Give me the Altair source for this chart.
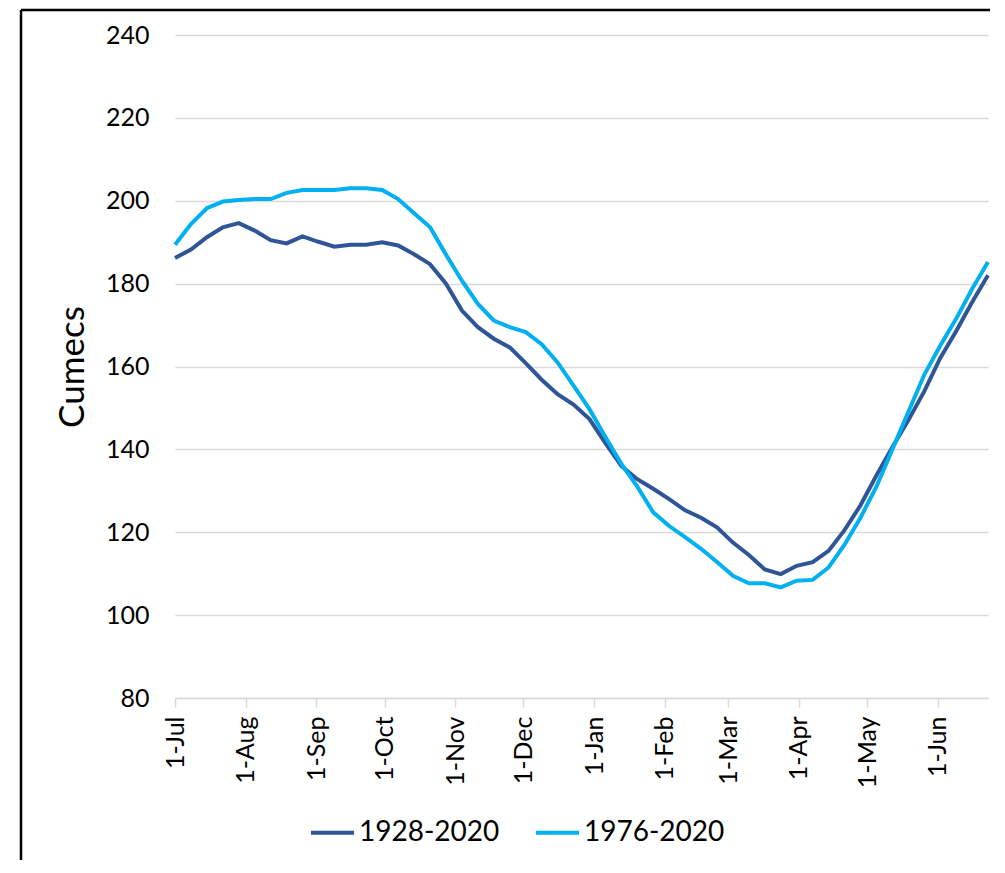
import altair as alt
import pandas as pd

# Weekly dates (Jul 1 -> Jun 23)
dates = [
    "2018-07-01", "2018-07-08", "2018-07-15", "2018-07-22", "2018-07-29",
    "2018-08-05", "2018-08-12", "2018-08-19", "2018-08-26",
    "2018-09-02", "2018-09-09", "2018-09-16", "2018-09-23", "2018-09-30",
    "2018-10-07", "2018-10-14", "2018-10-21", "2018-10-28",
    "2018-11-04", "2018-11-11", "2018-11-18", "2018-11-25",
    "2018-12-02", "2018-12-09", "2018-12-16", "2018-12-23", "2018-12-30",
    "2019-01-06", "2019-01-13", "2019-01-20", "2019-01-27",
    "2019-02-03", "2019-02-10", "2019-02-17", "2019-02-24",
    "2019-03-03", "2019-03-10", "2019-03-17", "2019-03-24", "2019-03-31",
    "2019-04-07", "2019-04-14", "2019-04-21", "2019-04-28",
    "2019-05-05", "2019-05-12", "2019-05-19", "2019-05-26",
    "2019-06-02", "2019-06-09", "2019-06-16", "2019-06-23",
]

flow_1928_2020 = [
    186.2, 188.2, 191.2, 193.6, 194.6, 192.8, 190.5, 189.7, 191.4, 190.1,
    188.9, 189.4, 189.4, 190.0, 189.2, 187.1, 184.7, 180.0, 173.5, 169.5,
    166.7, 164.6, 160.8, 156.8, 153.3, 150.8, 147.3, 141.5, 136.0, 132.8,
    130.5, 128.0, 125.3, 123.5, 121.2, 117.5, 114.5, 111.0, 109.9, 111.9,
    112.8, 115.5, 120.5, 126.5, 133.7, 140.5, 147.0, 154.0, 162.0, 168.5,
    175.5, 182.0,
]

flow_1976_2020 = [
    189.4, 194.4, 198.2, 199.8, 200.2, 200.4, 200.4, 201.9, 202.6, 202.6,
    202.6, 203.0, 203.0, 202.6, 200.4, 197.0, 193.6, 187.0, 180.7, 175.1,
    171.1, 169.5, 168.3, 165.4, 161.0, 155.4, 149.7, 143.0, 136.5, 131.0,
    124.8, 121.5, 118.8, 116.0, 112.8, 109.5, 107.7, 107.7, 106.7, 108.3,
    108.5, 111.5, 117.0, 123.5, 131.0, 140.0, 149.0, 158.0, 165.0, 171.5,
    178.7, 185.2,
]

series_names = ["1928-2020", "1976-2020"]
series_colors = ["#2F5597", "#00B0F0"]

tick_dates = [
    "2018-07-01", "2018-08-01", "2018-09-01", "2018-10-01", "2018-11-01",
    "2018-12-01", "2019-01-01", "2019-02-01", "2019-03-01", "2019-04-01",
    "2019-05-01", "2019-06-01",
]
y_ticks = [80, 100, 120, 140, 160, 180, 200, 220, 240]

rows = []
for name, vals in zip(series_names, [flow_1928_2020, flow_1976_2020]):
    for d, v in zip(dates, vals):
        rows.append({"date": d, "value": v, "series": name})
df = pd.DataFrame(rows)
df["date"] = pd.to_datetime(df["date"], utc=True)

def to_ms(s):
    return int(pd.Timestamp(s, tz="UTC").value // 10**6)

x_domain = [to_ms(dates[0]), to_ms(dates[-1])]
x_ticks = [to_ms(t) for t in tick_dates]

lines = alt.Chart(df).mark_line(strokeWidth=4).encode(
    x=alt.X(
        "date:T",
        scale=alt.Scale(type="utc", domain=x_domain, nice=False),
        axis=alt.Axis(
            values=x_ticks,
            format="%-d-%b",
            labelAngle=270,
            labelFontSize=25,
            labelColor="#000000",
            labelPadding=9,
            grid=False,
            domainColor="#D9D9D9",
            domainWidth=1.5,
            tickColor="#D9D9D9",
            tickWidth=1.5,
            tickSize=9,
            title=None,
            labelOverlap=False,
        ),
    ),
    y=alt.Y(
        "value:Q",
        scale=alt.Scale(domain=[80, 240], nice=False, zero=False),
        axis=alt.Axis(
            values=y_ticks,
            labelFontSize=25,
            labelColor="#000000",
            labelPadding=26,
            domain=False,
            ticks=False,
            grid=True,
            gridColor="#D9D9D9",
            gridWidth=1.5,
            title="Cumecs",
            titleFontSize=35,
            titleFontWeight="normal",
            titleColor="#000000",
            titlePadding=15,
        ),
    ),
    color=alt.Color(
        "series:N",
        scale=alt.Scale(domain=series_names, range=series_colors),
        legend=alt.Legend(
            title=None,
            orient="none",
            legendX=134,
            legendY=774,
            direction="horizontal",
            symbolType="stroke",
            symbolSize=1849,
            symbolStrokeWidth=4,
            labelFontSize=28,
            labelColor="#000000",
            labelOffset=3,
            columnPadding=28,
        ),
    ),
)

frame_src = alt.Data(values=[{"k": 1}])
frame_top = alt.Chart(frame_src).mark_rule(color="#000000", strokeWidth=2.5).encode(
    x=alt.value(-154), x2=alt.value(815), y=alt.value(-25)
)
frame_left = alt.Chart(frame_src).mark_rule(color="#000000", strokeWidth=2.5).encode(
    x=alt.value(-154), y=alt.value(-25), y2=alt.value(825)
)

chart = alt.layer(frame_top, frame_left, lines).properties(
    width=813,
    height=663,
    padding={"left": 11, "top": 0, "right": 0, "bottom": 0},
).configure(
    font="Lato",
).configure_view(
    stroke=None,
)

chart.save("out.html", embed_options={"renderer": "svg", "actions": False})
